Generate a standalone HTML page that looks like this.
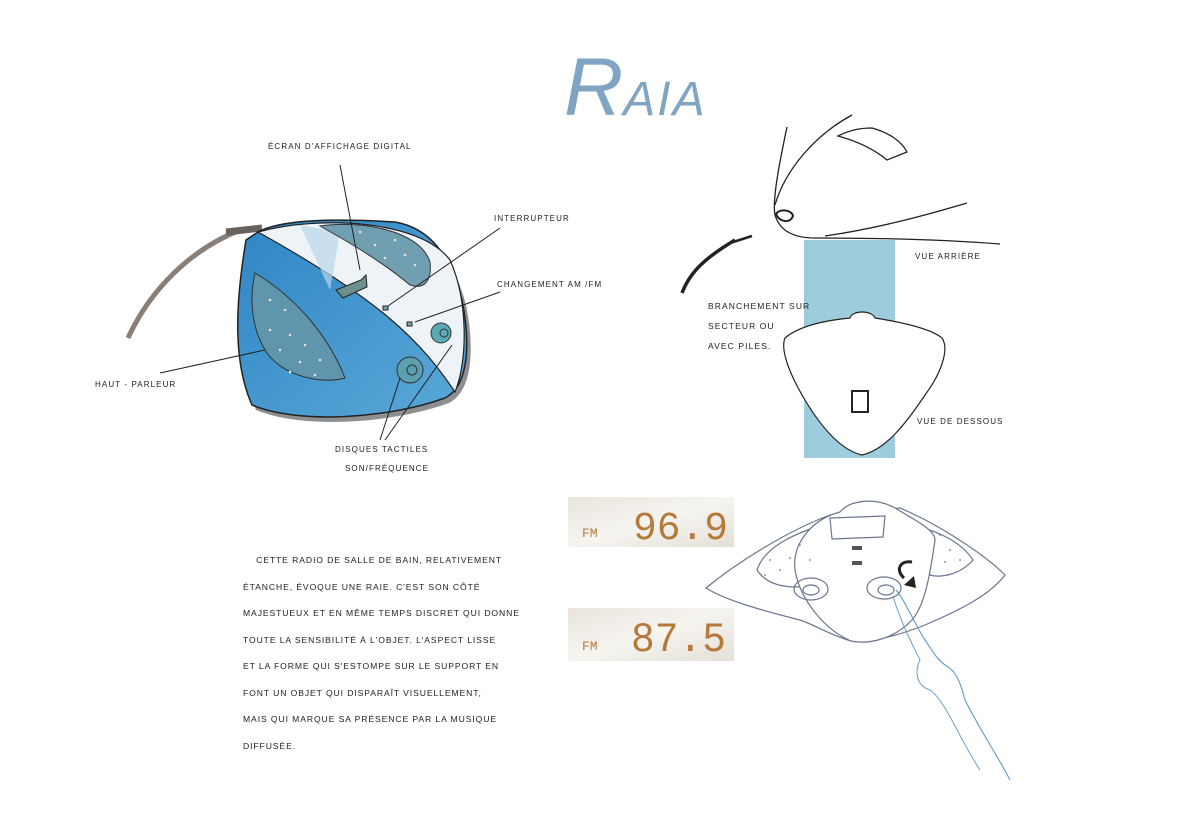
<!DOCTYPE html>
<html><head><meta charset="utf-8"><style>
html,body{margin:0;padding:0;background:#fff;}
body{width:1200px;height:834px;position:relative;overflow:hidden;font-family:"Liberation Sans",sans-serif;}
.t{position:absolute;font-size:8px;letter-spacing:1.1px;color:#222;text-transform:uppercase;white-space:nowrap;}
.p{position:absolute;left:243px;top:547px;font-size:8.6px;letter-spacing:0.9px;line-height:26.5px;color:#222;text-transform:uppercase;white-space:nowrap;}
</style></head><body>

<svg width="1200" height="834" style="position:absolute;left:0;top:0">
<defs>
<linearGradient id="bl" x1="0" y1="0" x2="1" y2="1"><stop offset="0" stop-color="#2f86c4"/><stop offset="1" stop-color="#5aa8d8"/></linearGradient>
<linearGradient id="lcd" x1="0" y1="0" x2="1" y2="1"><stop offset="0" stop-color="#e9e5de"/><stop offset="0.5" stop-color="#f6f4ef"/><stop offset="1" stop-color="#e4e0d8"/></linearGradient>
</defs>
<text x="564" y="115" fill="#7fa4c4" font-family="Liberation Sans,sans-serif" font-style="italic"><tspan font-size="82">R</tspan><tspan font-size="48" letter-spacing="2">AIA</tspan></text>
<!-- cord -->
<path d="M128 338 C150 290 190 250 240 230" stroke="#8a7f78" stroke-width="5" fill="none"/>
<path d="M226 232 L262 228" stroke="#6a625d" stroke-width="7"/>
<!-- main radio shadow -->
<path d="M246 240 C236 300 232 360 252 405 C300 425 390 418 445 398 C470 385 470 340 462 300 C450 255 430 228 395 222 C330 218 280 220 258 232 Z" fill="#8d8f92" transform="translate(4,5)"/>
<path d="M246 240 C236 300 232 360 252 405 C300 425 390 418 445 398 C470 385 470 340 462 300 C450 255 430 228 395 222 C330 218 280 220 258 232 Z" fill="url(#bl)" stroke="#222" stroke-width="1.5"/>
<path d="M258 232 C320 215 420 220 450 260 C468 300 468 360 455 392 C420 340 380 300 258 232 Z" fill="#eef3f7" stroke="#222" stroke-width="1.2"/>
<path d="M300 225 L340 232 L330 290 Z" fill="#b9d6ea" opacity=".7"/>
<path d="M320 226 C360 220 420 230 430 262 C432 280 425 290 410 285 C380 260 345 240 320 226Z" fill="#6f9fb0" stroke="#333" stroke-width="1"/>
<path d="M255 273 C300 300 330 340 345 378 C320 385 280 375 265 350 C250 325 250 295 255 273Z" fill="#5f95ad" stroke="#333" stroke-width="1"/>
<g fill="#e8e0d0">
<circle cx="270" cy="300" r="1.3"/><circle cx="285" cy="310" r="1.3"/><circle cx="270" cy="330" r="1.3"/><circle cx="290" cy="335" r="1.3"/><circle cx="305" cy="345" r="1.3"/><circle cx="280" cy="350" r="1.3"/><circle cx="300" cy="362" r="1.3"/><circle cx="320" cy="360" r="1.3"/><circle cx="290" cy="372" r="1.3"/><circle cx="315" cy="375" r="1.3"/>
<circle cx="360" cy="232" r="1.3"/><circle cx="375" cy="245" r="1.3"/><circle cx="395" cy="240" r="1.3"/><circle cx="405" cy="255" r="1.3"/><circle cx="415" cy="265" r="1.3"/><circle cx="385" cy="258" r="1.3"/>
</g>
<path d="M336 290 L361 280 L366 275 L367 287 L343 298 Z" fill="#6c8f8f" stroke="#222"/>
<rect x="383" y="306" width="5" height="4" fill="#7aa" stroke="#222"/>
<rect x="407" y="322" width="5" height="4" fill="#7aa" stroke="#222"/>
<circle cx="441" cy="333" r="10" fill="#5aa9b3" stroke="#333"/><circle cx="444" cy="333" r="4" fill="none" stroke="#333"/>
<circle cx="410" cy="370" r="13" fill="#5aa0b0" stroke="#333"/><circle cx="412" cy="370" r="5" fill="none" stroke="#333"/>
<g stroke="#222" stroke-width="1">
<line x1="340" y1="165" x2="360" y2="270"/>
<line x1="500" y1="228" x2="388" y2="306"/>
<line x1="500" y1="292" x2="415" y2="322"/>
<line x1="160" y1="373" x2="265" y2="350"/>
<line x1="380" y1="440" x2="400" y2="378"/>
<line x1="385" y1="440" x2="452" y2="345"/>
</g>
<!-- right top sketch -->
<rect x="804" y="240" width="91" height="218" fill="#8cc3d6" opacity=".85"/>
<g stroke="#222" stroke-width="1.3" fill="none">
<path d="M787 127 C780 160 772 200 775 215 C780 232 795 238 815 238 C880 238 950 240 1000 244"/>
<path d="M852 115 C815 135 785 170 775 205"/>
<path d="M825 236 C880 228 930 214 967 203"/>
<path d="M838 136 C850 130 860 128 872 128 C890 133 902 142 907 152 L887 160 C875 150 860 142 838 136Z"/>
<path d="M776 214 C780 208 792 210 793 216 C790 224 779 222 776 214Z" stroke-width="2"/>
<path d="M682 293 C690 272 705 258 735 240" stroke-width="3.5"/>
<path d="M730 243 L752 236" stroke-width="2.5"/>
</g>
<path d="M785 338 C800 325 830 320 850 318 C852 310 872 310 875 318 C900 322 930 328 942 338 C950 350 940 375 925 395 C905 425 885 450 862 455 C840 450 820 425 805 400 C790 375 780 350 785 338Z" fill="#fff" stroke="#222" stroke-width="1.2"/>
<rect x="852" y="391" width="16" height="21" fill="none" stroke="#222" stroke-width="2"/>
<!-- LCDs -->
<rect x="568" y="497" width="166" height="50" fill="url(#lcd)"/>
<rect x="568" y="608" width="166" height="53" fill="url(#lcd)"/>
<g fill="#b57a3a" font-family="Liberation Mono,monospace">
<text x="582" y="537" font-size="13">FM</text>
<text x="633" y="539" font-size="40" textLength="95" lengthAdjust="spacingAndGlyphs">96.9</text>
<text x="582" y="650" font-size="13">FM</text>
<text x="631" y="651" font-size="42" textLength="95" lengthAdjust="spacingAndGlyphs">87.5</text>
</g>
<!-- bottom right sketch -->
<g stroke="#6a7690" stroke-width="1.2" fill="#fff">
<path d="M706 588 C740 560 790 530 830 515 L900 508 C940 525 985 555 1005 575 C990 595 960 610 925 625 C900 635 870 643 851 641 C830 635 815 625 800 620 C760 610 725 600 706 588Z"/>
<path d="M757 570 C765 545 800 532 822 525 L830 582 C800 590 770 590 757 570Z" fill="#fff"/>
<path d="M905 523 C935 530 960 540 973 560 C960 575 940 578 930 575 Z" fill="#fff"/>
<path d="M840 512 C850 500 875 497 895 508 C915 520 935 530 935 540 C930 575 925 605 912 620 C895 638 870 645 851 641 C825 630 800 600 795 570 C792 545 810 520 840 512Z"/>
<path d="M830 518 L885 516 L883 537 L832 539 Z" fill="none"/>
<ellipse cx="811" cy="589" rx="17" ry="11" fill="none"/>
<ellipse cx="811" cy="590" rx="8" ry="5" fill="none"/>
<ellipse cx="884" cy="588" rx="17" ry="11" fill="none"/>
<ellipse cx="886" cy="590" rx="8" ry="5" fill="none"/>
</g>
<g fill="#777"><circle cx="770" cy="560" r=".9"/><circle cx="780" cy="570" r=".9"/><circle cx="790" cy="558" r=".9"/><circle cx="765" cy="575" r=".9"/><circle cx="800" cy="545" r=".9"/><circle cx="810" cy="560" r=".9"/><circle cx="940" cy="535" r=".9"/><circle cx="950" cy="550" r=".9"/><circle cx="960" cy="560" r=".9"/><circle cx="945" cy="562" r=".9"/></g>
<rect x="852" y="546" width="10" height="4" fill="#555"/>
<rect x="852" y="561" width="10" height="4" fill="#555"/>
<path d="M904 578 C895 570 900 560 912 562" stroke="#222" stroke-width="3" fill="none"/>
<path d="M904 585 L914 576 L916 588 Z" fill="#222"/>
<path d="M896 590 C905 600 915 625 925 640 C935 655 938 660 945 665 C955 670 960 680 965 700 C980 730 1000 760 1010 780" stroke="#6aa0c8" stroke-width="1.2" fill="none"/>
<path d="M893 596 C900 620 910 640 920 660 C915 670 915 685 930 690 C945 700 960 740 980 770" stroke="#6aa0c8" stroke-width="1" fill="none"/>
</svg>

<div class="t" style="left:268px;top:142px">écran d'affichage digital</div>
<div class="t" style="left:494px;top:214px">interrupteur</div>
<div class="t" style="left:497px;top:280px">changement AM /FM</div>
<div class="t" style="left:95px;top:380px">haut - parleur</div>
<div class="t" style="left:335px;top:445px">disques tactiles</div>
<div class="t" style="left:345px;top:464px">son/fréquence</div>
<div class="t" style="left:915px;top:252px">vue arrière</div>
<div class="t" style="left:708px;top:296px;font-size:8.5px;line-height:20px">branchement sur<br>secteur ou<br>avec piles.</div>
<div class="t" style="left:917px;top:417px">vue de dessous</div>
<div class="p">&nbsp;&nbsp;&nbsp;&nbsp;cette radio de salle de bain, relativement<br>étanche, évoque une raie. C'est son côté<br>majestueux et en même temps discret qui donne<br>toute la sensibilité à l'objet. L'aspect lisse<br>et la forme qui s'estompe sur le support en<br>font un objet qui disparaît visuellement,<br>mais qui marque sa présence par la musique<br>diffusée.</div>
</body></html>
